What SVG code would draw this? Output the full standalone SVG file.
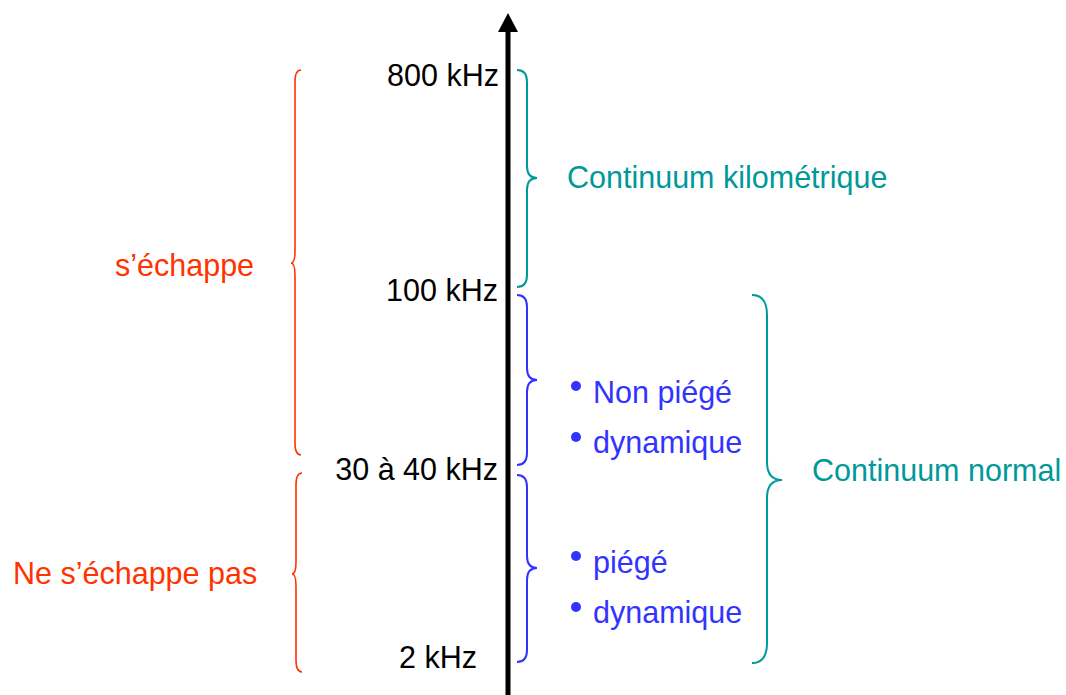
<svg xmlns="http://www.w3.org/2000/svg" width="1066" height="695" viewBox="0 0 1066 695">
<style>
text{font-family:"Liberation Sans",Arial,sans-serif;font-size:30.5px}
.k{fill:#000}
.r{fill:#FF3300}
.t{fill:#009999}
.b{fill:#3333FF}
.br{fill:none;stroke-width:2}
.rs{stroke:#FF3300;stroke-width:1.6}
.ts{stroke:#009999}
.bs{stroke:#3333FF}
</style>
<rect width="1066" height="695" fill="#fff"/>
<g id="connectors">
<line x1="508" y1="30" x2="508" y2="695" stroke="#000" stroke-width="5"/>
<polygon points="508,13 518,32 498,32" fill="#000"/>
</g>
<g id="axis-labels">
<text class="k" x="499" y="86" text-anchor="end">800 kHz</text>
<text class="k" x="498" y="301" text-anchor="end">100 kHz</text>
<text class="k" x="498" y="480" text-anchor="end">30 à 40 kHz</text>
<text class="k" x="477" y="668" text-anchor="end">2 kHz</text>
</g>
<g id="brace-kilometrique">
<path class="br ts" d="M517,70 Q527,70 527,82 L527,166 Q527,178 537,178 Q527,178 527,190 L527,275 Q527,287 517,287"/>
<text class="t" x="567" y="188">Continuum kilométrique</text>
</g>
<g id="brace-echappe">
<path class="br rs" d="M301,70 Q295,70 295,82 L295,251 Q295,263 291,263 Q295,263 295,275 L295,443 Q295,455 301,455"/>
<text class="r" x="115" y="276">s’échappe</text>
</g>
<g id="brace-ne-echappe">
<path class="br rs" d="M302,473 Q296,473 296,485 L296,562 Q296,574 292,574 Q296,574 296,586 L296,660 Q296,672 302,672"/>
<text class="r" x="13" y="584">Ne s’échappe pas</text>
</g>
<g id="brace-non-piege">
<path class="br bs" d="M517,295 Q527,295 527,307 L527,368 Q527,380 537,380 Q527,380 527,392 L527,453 Q527,465 517,465"/>
<circle class="b" cx="576" cy="386" r="5"/>
<text class="b" x="593" y="403">Non piégé</text>
<circle class="b" cx="576" cy="437" r="5"/>
<text class="b" x="593" y="453">dynamique</text>
</g>
<g id="brace-piege">
<path class="br bs" d="M517,475 Q527,475 527,487 L527,556 Q527,568 537,568 Q527,568 527,580 L527,650 Q527,662 517,662"/>
<circle class="b" cx="576" cy="556" r="5"/>
<text class="b" x="593" y="573">piégé</text>
<circle class="b" cx="576" cy="607" r="5"/>
<text class="b" x="593" y="623">dynamique</text>
</g>
<g id="brace-normal">
<path class="br ts" d="M752,295 Q767,295 767,315 L767,462 Q767,480 782,480 Q767,480 767,498 L767,643 Q767,663 752,663"/>
<text class="t" x="812" y="481">Continuum normal</text>
</g>
</svg>
